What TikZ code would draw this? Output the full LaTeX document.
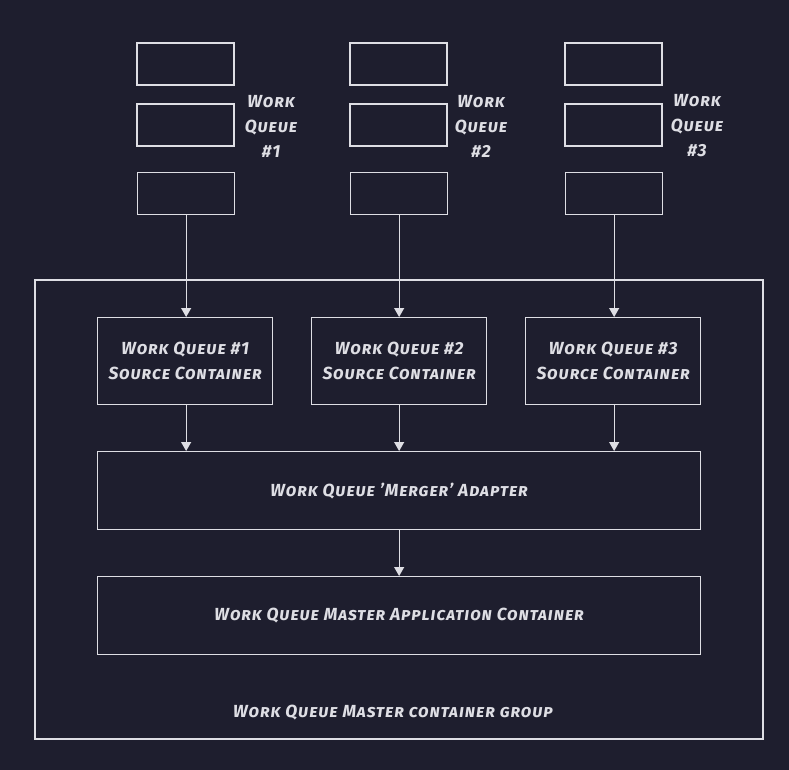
\documentclass[tikz,border=0pt]{standalone}
\usepackage{fontspec}
\setmainfont{Fira Sans}[LetterSpace=5]
\usetikzlibrary{arrows.meta}
\definecolor{bg}{RGB}{30,30,46}
\definecolor{ink}{RGB}{222,222,228}
\begin{document}
\begin{tikzpicture}[x=1pt,y=-1pt,
  box/.style={draw=ink,line width=1.3pt,fill=bg},
  lbl/.style={text=ink,font=\fontsize{17.5}{21}\selectfont\bfseries\itshape\scshape,align=center,inner sep=0pt},
  arr/.style={draw=ink,line width=1.2pt,-{Triangle[length=9pt,width=10pt]}}]
\fill[bg] (0,0) rectangle (789,770);
\useasboundingbox (0,0) rectangle (789,770);
% outer group
\draw[box] (35,280) rectangle (763,739);
\node[lbl] (grouplbl) at (393,713) {Work Queue Master container group};
% queue boxes
\foreach \c/\x/\lx/\n in {1/137/271/1,2/350/481/2,3/565/697/3}{
  \draw[box] (\x,43) rectangle ++(97,42);
  \draw[box] (\x,104) rectangle ++(97,42);
  \node[box,minimum width=97pt,minimum height=42pt,anchor=north west,inner sep=0pt] (q\c) at (\x,172) {};
  \node[lbl] (ql\c) at (\lx,126) {Work\\[4pt]Queue\\[4pt]\#\n};
}
% source containers
\foreach \c/\x in {1/97,2/311,3/525}{
  \node[box,lbl,minimum width=175pt,minimum height=87pt,anchor=north west] (s\c) at (\x,317) {Work Queue \#\c\\[4pt]Source Container};
}
\node[box,lbl,minimum width=603pt,minimum height=78pt,anchor=north west] (merger) at (97,451) {Work Queue 'Merger' Adapter};
\node[box,lbl,minimum width=603pt,minimum height=78pt,anchor=north west] (master) at (97,576) {Work Queue Master Application Container};
% arrows
\foreach \c in {1,2,3}{
  \draw[arr] (q\c.south) -- (q\c.south |- s\c.north);
  \draw[arr] (q\c.south |- s\c.south) -- (q\c.south |- merger.north);
}
\draw[arr] (merger.south -| q2.south) -- (master.north -| q2.south);
\end{tikzpicture}
\end{document}
